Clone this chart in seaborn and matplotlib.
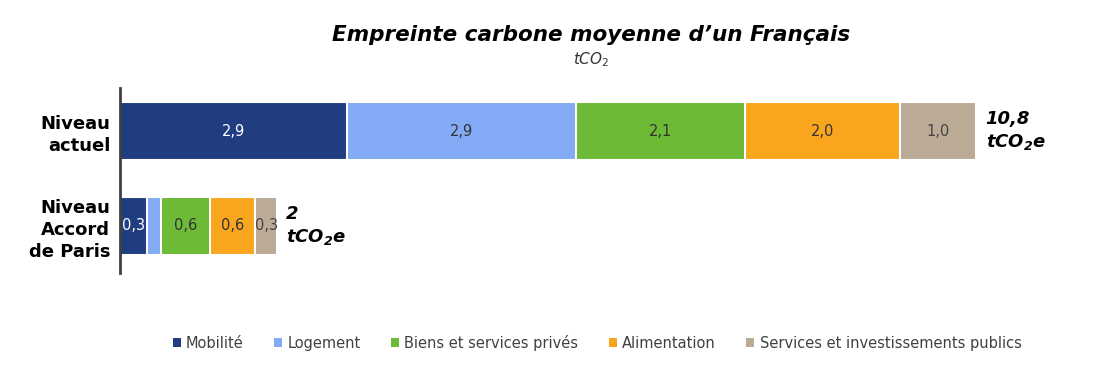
import numpy as np
import pandas as pd
import matplotlib
matplotlib.use("Agg")
import matplotlib.pyplot as plt
import seaborn as sns
from matplotlib.patches import Patch

# ---- data ----
levels = ["Niveau\nactuel", "Niveau\nAccord\nde Paris"]
categories = ["Mobilité", "Logement", "Biens et services privés", "Alimentation",
              "Services et investissements publics"]
actuel = [2.87, 2.89, 2.13, 1.96, 0.96]
paris = [0.34, 0.18, 0.62, 0.57, 0.27]
actuel_labels = ["2,9", "2,9", "2,1", "2,0", "1,0"]
paris_labels = ["0,3", "", "0,6", "0,6", "0,3"]
totals_labels = ["10,8", "2"]
colors = ["#1F3D80", "#82AAF5", "#6CBA35", "#F9A51E", "#BBAA96"]
label_colors = ["white", "#333333", "#333333", "#333333", "#444444"]

sns.set_theme(style="white")
plt.rcParams['font.family'] = ['DejaVu Sans']
plt.rcParams['mathtext.fontset'] = 'custom'
plt.rcParams['mathtext.rm'] = 'DejaVu Sans'
plt.rcParams['mathtext.it'] = 'DejaVu Sans:italic'
plt.rcParams['mathtext.bf'] = 'DejaVu Sans:bold:italic'

df = pd.DataFrame({"level": np.repeat(levels, len(categories)),
                   "cat": categories * 2,
                   "value": actuel + paris})
df["cum"] = df.groupby("level", sort=False)["value"].cumsum()

fig = plt.figure(figsize=(11.08, 3.90), dpi=100)
ax = fig.add_axes([120 / 1108, (390 - 273) / 390, 880 / 1108, 185 / 390])

for i in reversed(range(len(categories))):
    sub = df[df["cat"] == categories[i]]
    sns.barplot(data=sub, x="cum", y="level", order=levels, orient="h",
                color=colors[i], saturation=1, width=0.62,
                edgecolor="white", linewidth=1.5, ax=ax, errorbar=None)

# in-bar labels
for row, (vals, labs) in enumerate([(actuel, actuel_labels), (paris, paris_labels)]):
    start = 0
    for i, (v, lab) in enumerate(zip(vals, labs)):
        if lab:
            ax.text(start + v / 2, row, lab, ha="center", va="center",
                    fontsize=10.5, color=label_colors[i])
        start += v
    total = sum(vals)
    ax.text(total + 0.12, row, totals_labels[row] + "\n" + r"$\mathbf{tCO_2e}$",
            ha="left", va="center", fontsize=13, fontweight="bold",
            fontstyle="italic", color="black", linespacing=1.3)

ax.set_xlim(0, 880 / 79.2)
ax.set_ylim(1.495, -0.453)
ax.set_xlabel("")
ax.set_ylabel("")
ax.set_xticks([])
ax.set_yticks([0, 1])
ax.set_yticklabels(levels, fontsize=13, fontweight="bold", color="black",
                   linespacing=1.3)
ax.tick_params(axis="y", length=0, pad=7)
for s in ["top", "right", "bottom"]:
    ax.spines[s].set_visible(False)
ax.spines["left"].set_color("#404040")
ax.spines["left"].set_linewidth(2)

fig.text(591 / 1108, 1 - 35 / 390, "Empreinte carbone moyenne d’un Français",
         ha="center", va="center", fontsize=15.5, fontweight="bold",
         fontstyle="italic", color="black")
fig.text(591 / 1108, 1 - 60 / 390, r"$\mathit{tCO_2}$", ha="center",
         va="center", fontsize=11, color="#333333")

handles = [Patch(facecolor=c, edgecolor="none") for c in colors]
fig.legend(handles, categories, loc="center", ncol=5,
           bbox_to_anchor=(597 / 1108, 1 - 343 / 390), frameon=False,
           fontsize=10.5, handlelength=0.55, handleheight=0.55,
           handletextpad=0.35, columnspacing=2.1, labelcolor="#404040")

fig.savefig("out.png", dpi=100)
